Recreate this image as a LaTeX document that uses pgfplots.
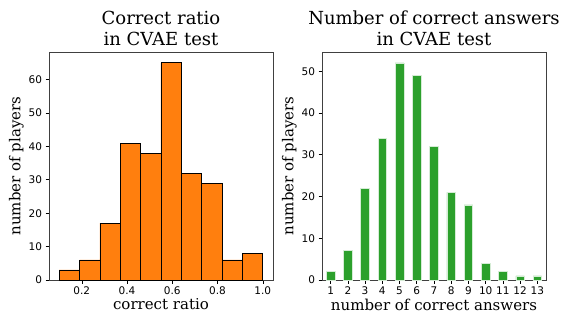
\documentclass[border=0pt]{standalone}
\usepackage{pgfplots}
\pgfplotsset{compat=1.18}
\usepackage{fontspec}
\setmainfont{DejaVu Serif}
\newfontfamily\ticksans{DejaVu Sans}
\definecolor{mplorange}{HTML}{FF7F0E}
\definecolor{mplgreen}{HTML}{2CA02C}
\pgfplotsset{
  common/.style={
    scale only axis, width=224pt, height=228pt,
    anchor=south west,
    axis line style={black!75, line width=0.8pt},
    tick align=outside,
    xtick pos=bottom, ytick pos=left,
    major tick length=3.5pt,
    tick style={black, line width=0.6pt},
    tick label style={font=\ticksans\fontsize{10.5}{12}\selectfont},
    /pgf/number format/assume math mode=true,
    label style={font=\fontsize{15}{17}\selectfont},
    xlabel style={yshift=3pt},
    ylabel style={yshift=-2pt},
    title style={font=\fontsize{18}{20.5}\selectfont, align=center, yshift=-3pt},
    ymin=0,
    ylabel={number of players},
  }
}
\begin{document}
\begin{tikzpicture}
\useasboundingbox (0,0) rectangle (581pt,327pt);
\begin{axis}[common, at={(49pt,47pt)},
  title={Correct ratio\\in CVAE test},
  xlabel={correct ratio},
  xmin=0.055, xmax=1.045, ymax=68.25,
  xtick={0.2,0.4,0.6,0.8,1.0},
  xticklabel style={/pgf/number format/.cd, fixed, fixed zerofill, precision=1},
  ytick={0,10,20,30,40,50,60},
]
\addplot[ybar interval, fill=mplorange, draw=black, line width=0.8pt] coordinates {
(0.10,3) (0.19,6) (0.28,17) (0.37,41) (0.46,38) (0.55,65) (0.64,32) (0.73,29) (0.82,6) (0.91,8) (1.00,8)
};
\end{axis}
\begin{axis}[common, at={(322pt,47pt)},
  title={Number of correct answers\\in CVAE test},
  xlabel={number of correct answers},
  xmin=0.5, xmax=13.5, ymax=54.6,
  xtick={1,2,...,13},
  ytick={0,10,20,30,40,50},
]
\addplot[ybar, bar width=0.5, fill=mplgreen, draw=white!80!mplgreen, line width=0.6pt, bar shift=0pt] coordinates {
(1,2) (2,7) (3,22) (4,34) (5,52) (6,49) (7,32) (8,21) (9,18) (10,4) (11,2) (12,1) (13,1)
};
\end{axis}
\end{tikzpicture}
\end{document}
